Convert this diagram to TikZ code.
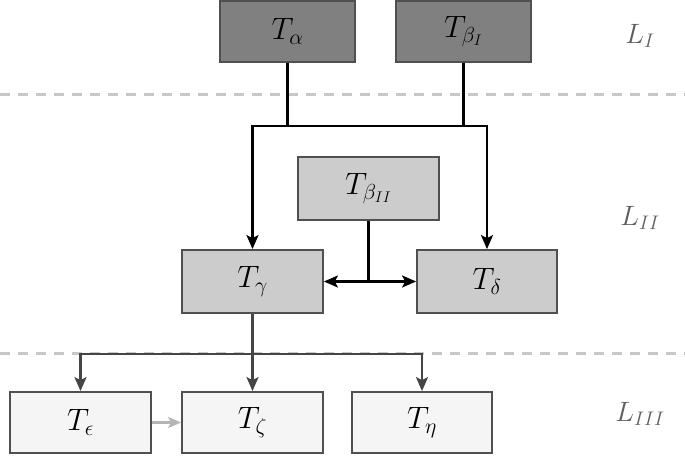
\RequirePackage{fix-cm}
\documentclass[tikz,border=0pt]{standalone}
\usetikzlibrary{arrows.meta}
\definecolor{darkfill}{HTML}{808080}
\definecolor{midfill}{HTML}{CCCCCC}
\definecolor{lightfill}{HTML}{F5F5F5}
\definecolor{edgegray}{HTML}{505050}
\definecolor{dashgray}{HTML}{C8C8C8}
\definecolor{connlow}{HTML}{454545}
\definecolor{softarrow}{HTML}{B5B5B5}
\definecolor{labelgray}{HTML}{5E5E5E}
\tikzset{
  box/.style={draw=edgegray, line width=1.8pt, inner sep=0pt, font=\fontsize{31}{36}\selectfont},
  darkbox/.style={box, fill=darkfill},
  midbox/.style={box, fill=midfill},
  lightbox/.style={box, fill=lightfill},
  levelline/.style={draw=dashgray, line width=3pt, dash pattern=on 10pt off 8pt},
  plainconn/.style={draw=black, line width=2.2pt},
  conn/.style={plainconn, -{Stealth[length=14pt,width=12pt,inset=3pt]}},
  connlo/.style={draw=connlow, line width=2.2pt, -{Stealth[length=14pt,width=12pt,inset=3pt]}},
  softconn/.style={draw=softarrow, line width=2.2pt, -{Stealth[length=13pt,width=11pt,inset=3pt]}},
  levellabel/.style={text=labelgray, font=\fontsize{28}{32}\selectfont}
}
\begin{document}
\begin{tikzpicture}[x=1pt,y=-1pt]
\useasboundingbox (0,0) rectangle (685,455);
% level separators
\draw[levelline] (0,94) -- (685,94);
\draw[levelline] (0,353) -- (685,353);
% level I
\node[darkbox, minimum width=135pt, minimum height=61pt] (ta) at (287.5,31.5) {$T_\alpha$};
\node[darkbox, minimum width=135pt, minimum height=61pt] (tb) at (463.5,31.5) {$T_{\beta_I}$};
% level II
\node[midbox, minimum width=141pt, minimum height=63pt] (tb2) at (368.5,188.5) {$T_{\beta_{II}}$};
\node[midbox, minimum width=141pt, minimum height=63pt] (tg) at (252.5,281.5) {$T_\gamma$};
\node[midbox, minimum width=140pt, minimum height=63pt] (td) at (487,281.5) {$T_\delta$};
% level III
\node[lightbox, minimum width=141pt, minimum height=61pt] (te) at (80.5,422.5) {$T_\epsilon$};
\node[lightbox, minimum width=141pt, minimum height=61pt] (tz) at (252.5,422.5) {$T_\zeta$};
\node[lightbox, minimum width=140pt, minimum height=61pt] (th) at (422,422.5) {$T_\eta$};
% level labels
\node[levellabel] (l1) at (640,36) {$L_I$};
\node[levellabel] (l2) at (640,218) {$L_{II}$};
\node[levellabel] (l3) at (640,414) {$L_{III}$};
% connectors
\coordinate (busL) at (252.5,126);
\coordinate (busR) at (487,126);
\draw[plainconn] (ta.south) -- (ta.south |- busL);
\draw[plainconn] (tb.south) -- (tb.south |- busL);
\draw[plainconn, line cap=rect] (busL) -- (busR);
\draw[conn] (busL) -- (tg.north);
\draw[conn] (busR) -- (td.north);
\draw[conn] (tb2.south) |- (tg.east);
\draw[conn] (tb2.south) |- (td.west);
\draw[connlo] (tg.south) -- (tz.north);
\draw[connlo] (tg.south) -- ++(0,40) -| (te.north);
\draw[connlo] (tg.south) -- ++(0,40) -| (th.north);
\draw[softconn] (te.east) -- (tz.west);
\end{tikzpicture}
\end{document}
